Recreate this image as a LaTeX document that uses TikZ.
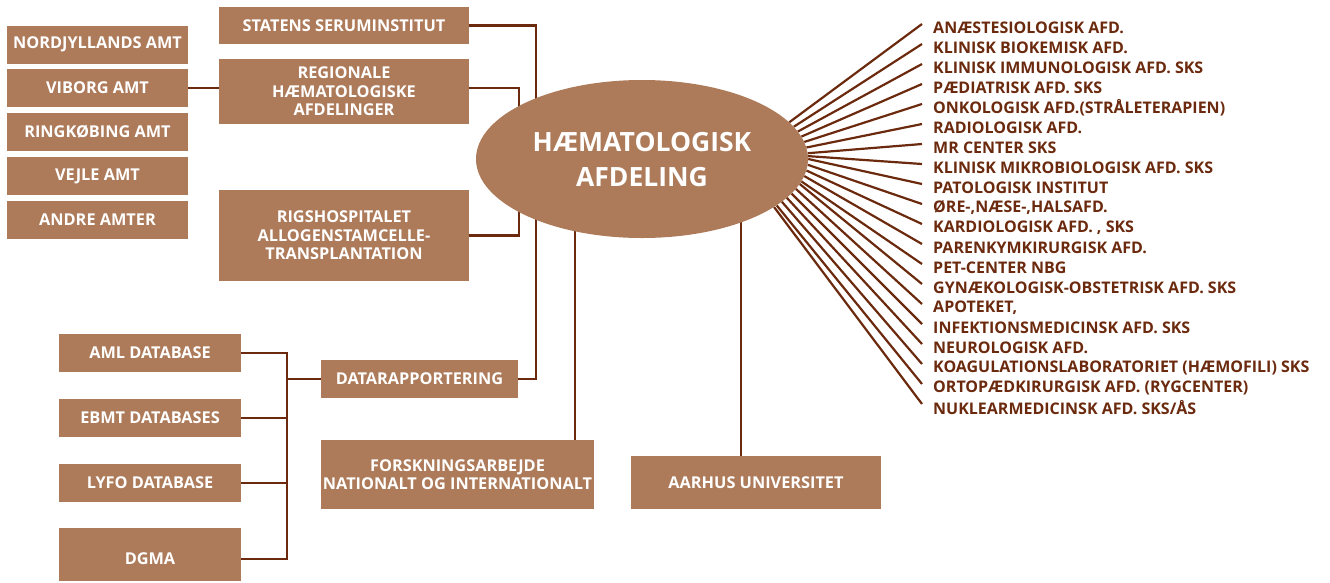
\documentclass[tikz,border=0pt]{standalone}
\usepackage{fontspec}
\setmainfont{Open Sans}
\usetikzlibrary{backgrounds,shapes.geometric}
\definecolor{boxc}{HTML}{AD7B5A}
\definecolor{linec}{HTML}{6B2A0E}
\tikzset{
  box/.style={fill=boxc, text=white, font=\bfseries\fontsize{16.3}{18.5}\selectfont, align=center, inner sep=0pt},
  conn/.style={draw=linec, line width=2.4pt},
  dept/.style={text=linec, font=\bfseries\fontsize{16}{18}\selectfont, anchor=west, inner xsep=11pt, inner ysep=0pt},
  hub/.style={ellipse, fill=boxc, text=white, font=\bfseries\fontsize{26.5}{35}\selectfont, align=center, inner sep=0pt, minimum width=332pt, minimum height=158pt}
}
\begin{document}
\begin{tikzpicture}[x=1pt,y=-1pt]
\useasboundingbox (0,0) rectangle (1330,582);
% hub
\node[hub] (ell) at (642,159) {\raisebox{-9pt}[0pt][0pt]{\begin{tabular}{@{}c@{}}HÆMATOLOGISK\\[-0.5pt]AFDELING\end{tabular}}};
% left counties
\node[box, minimum width=181pt, minimum height=38pt] (nord) at (97.5,44.5) {NORDJYLLANDS AMT};
\node[box, minimum width=181pt, minimum height=38pt] (vib) at (97.5,88) {VIBORG AMT};
\node[box, minimum width=181pt, minimum height=38pt] (ring) at (97.5,132) {RINGKØBING AMT};
\node[box, minimum width=181pt, minimum height=38pt] (vejle) at (97.5,176) {VEJLE AMT};
\node[box, minimum width=181pt, minimum height=38pt] (andre) at (97.5,220) {ANDRE AMTER};
% middle column
\node[box, minimum width=250pt, minimum height=37pt] (ssi) at (344,25.5) {STATENS SERUMINSTITUT};
\node[box, minimum width=250pt, minimum height=65pt] (reg) at (344,91.5) {REGIONALE\\HÆMATOLOGISKE\\AFDELINGER};
\node[box, minimum width=250pt, minimum height=91pt] (rigs) at (344,235.5) {RIGSHOSPITALET\\ALLOGENSTAMCELLE-\\TRANSPLANTATION};
\node[box, minimum width=197pt, minimum height=38pt] (data) at (419.5,379) {DATARAPPORTERING};
\node[box, minimum width=273pt, minimum height=69pt] (forsk) at (457.5,474.5) {FORSKNINGSARBEJDE\\NATIONALT OG INTERNATIONALT};
\node[box, minimum width=250pt, minimum height=53pt] (aarhus) at (756,482.5) {AARHUS UNIVERSITET};
% databases
\node[box, minimum width=182pt, minimum height=38pt] (aml) at (150,353) {AML DATABASE};
\node[box, minimum width=182pt, minimum height=38pt] (ebmt) at (150,418) {EBMT DATABASES};
\node[box, minimum width=182pt, minimum height=38pt] (lyfo) at (150,483) {LYFO DATABASE};
\node[box, minimum width=182pt, minimum height=53pt] (dgma) at (150,554.5) {\raisebox{-10pt}[0pt][0pt]{DGMA}};
% departments
\foreach \t [count=\i from 0] in {%
  ANÆSTESIOLOGISK AFD.,
  KLINISK BIOKEMISK AFD.,
  KLINISK IMMUNOLOGISK AFD. SKS,
  PÆDIATRISK AFD. SKS,
  ONKOLOGISK AFD.(STRÅLETERAPIEN),
  RADIOLOGISK AFD.,
  MR CENTER SKS,
  KLINISK MIKROBIOLOGISK AFD. SKS,
  PATOLOGISK INSTITUT,
  ØRE-{,}NÆSE-{,}HALSAFD.,
  KARDIOLOGISK AFD. {,} SKS,
  PARENKYMKIRURGISK AFD.,
  PET-CENTER NBG,
  GYNÆKOLOGISK-OBSTETRISK AFD. SKS,
  APOTEKET{,},
  INFEKTIONSMEDICINSK AFD. SKS,
  NEUROLOGISK AFD.,
  KOAGULATIONSLABORATORIET (HÆMOFILI) SKS,
  ORTOPÆDKIRURGISK AFD. (RYGCENTER),
  NUKLEARMEDICINSK AFD. SKS/ÅS}
{
  \node[dept] (d\i) at (922,28+20*\i) {\t};
}
% helper coordinates for vertical trunks
\coordinate (trunk) at (536,0);
\coordinate (regx) at (519,0);
\coordinate (dbx) at (287,0);
\coordinate (fx) at (575,0);
\coordinate (ax) at (741,0);
\begin{pgfonlayer}{background}
  \draw[conn] (vib.east) -- (vib.east -| reg.west);
  \draw[conn] (ssi.east) -- (ssi.east -| trunk) -- (data.east -| trunk) -- (data.east);
  \draw[conn] ([yshift=3.5pt]reg.east) -- ([yshift=3.5pt]reg.east -| regx) -- (rigs.east -| regx) -- (rigs.east);
  \draw[conn] (aml.east) -- (aml.east -| dbx) -- ([yshift=-4.5pt]dgma.east -| dbx) -- ([yshift=-4.5pt]dgma.east);
  \draw[conn] (ebmt.east) -- (ebmt.east -| dbx);
  \draw[conn] (lyfo.east) -- (lyfo.east -| dbx);
  \draw[conn] (data.west -| dbx) -- (data.west);
  \draw[conn] (forsk.north -| fx) -- (ell.center -| fx);
  \draw[conn] (aarhus.north -| ax) -- (ell.center -| ax);
  \foreach \i in {0,...,19} {
    \pgfmathsetmacro{\ang}{14-1.84*\i}
    \draw[conn, line width=2.2pt] (ell.\ang) -- ([yshift=4pt]d\i.west);
  }
\end{pgfonlayer}
\end{tikzpicture}
\end{document}
